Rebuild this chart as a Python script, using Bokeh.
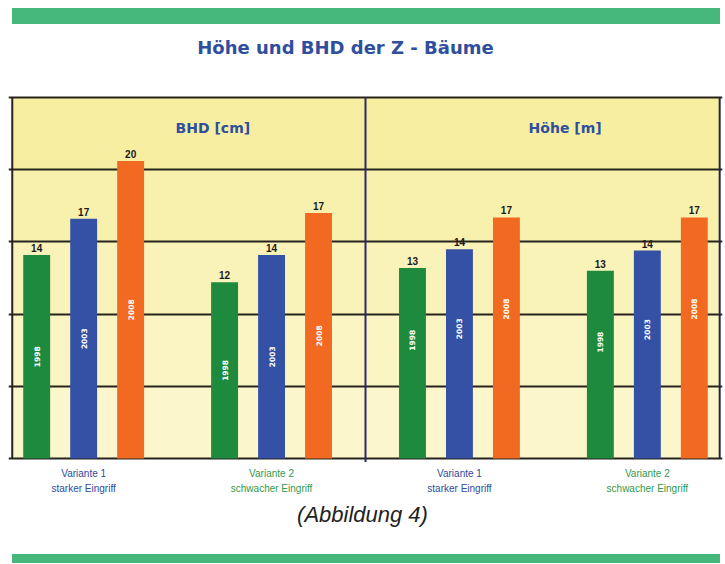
import math
from bokeh.plotting import figure
from bokeh.models import FactorRange, Range1d, ColumnDataSource, BoxAnnotation, FixedTicker, Div
from bokeh.layouts import column
from bokeh.core.properties import value
from bokeh.embed import file_html
from bokeh.resources import INLINE

# ---------------- data ----------------
chart_title = "Höhe und BHD der Z - Bäume"
caption = "(Abbildung 4)"
panels = ["BHD", "Höhe"]
panel_titles = ["BHD [cm]", "Höhe [m]"]
variants = ["Variante 1", "Variante 2"]
variant_labels = ["Variante 1\nstarker Eingriff", "Variante 2\nschwacher Eingriff"]
years = ["1998", "2003", "2008"]

bhd_v1 = [14.1, 16.6, 20.6]
bhd_v2 = [12.2, 14.1, 17.0]
hoehe_v1 = [13.2, 14.5, 16.7]
hoehe_v2 = [13.0, 14.4, 16.7]

bhd_v1_text = ["14", "17", "20"]
bhd_v2_text = ["12", "14", "17"]
hoehe_v1_text = ["13", "14", "17"]
hoehe_v2_text = ["13", "14", "17"]

y_ticks = [0, 5, 10, 15, 20, 25]

# ---------------- styles ----------------
year_colors = ["#1E8A3E", "#3451A6", "#F26A22"]
variant_colors = ["#2E4A9E", "#2F9A4C"]
title_blue = "#2F4E9E"
green_bar = "#47B87B"
line_dark = "#26241c"
band_colors = ["#FBF6CB", "#FAF5C3", "#F9F3B9", "#F8F1AE", "#F7EEA2"]
year_label_frac = {"BHD": 0.5, "Höhe": 0.62}

series = {("BHD", "Variante 1"): (bhd_v1, bhd_v1_text),
          ("BHD", "Variante 2"): (bhd_v2, bhd_v2_text),
          ("Höhe", "Variante 1"): (hoehe_v1, hoehe_v1_text),
          ("Höhe", "Variante 2"): (hoehe_v2, hoehe_v2_text)}

xs, tops, texts, yrs, ymids, cols = [], [], [], [], [], []
for pan in panels:
    for var in variants:
        vals, labs = series[(pan, var)]
        for i, yr in enumerate(years):
            xs.append((pan, var, yr))
            tops.append(vals[i])
            texts.append(labs[i])
            yrs.append(yr)
            ymids.append(vals[i] * year_label_frac[pan])
            cols.append(year_colors[i])

src = ColumnDataSource(dict(x=xs, top=tops, text=texts, year=yrs, ymid=ymids, color=cols))

x_range = FactorRange(*xs, factor_padding=0, subgroup_padding=1, group_padding=1,
                      range_padding=0.1, range_padding_units="absolute")
n_units = len(xs) + 3          # 12 bars + 3 gaps
divider = n_units / 2.0
x_left = -0.02                 # left border of plot area
x_right = n_units + 0.04       # right border of plot area
y_top = y_ticks[-1]

# frame covers title, plot area, category labels and caption
p = figure(x_range=x_range, y_range=Range1d(-6.65, 30.06),
           frame_width=714, frame_height=530,
           min_border_left=8, min_border_right=2, min_border_top=0, min_border_bottom=0,
           x_axis_location=None, y_axis_location=None,
           output_backend="svg", toolbar_location=None,
           background_fill_color="white", border_fill_color="white",
           outline_line_color=None)

# background bands
for i in range(len(y_ticks) - 1):
    p.add_layout(BoxAnnotation(left=x_left, right=x_right,
                               bottom=y_ticks[i], top=y_ticks[i + 1],
                               fill_color=band_colors[i], fill_alpha=1.0,
                               line_color=None, level="image"))

# horizontal grid lines (extend slightly left like tick marks)
p.xgrid.visible = False
p.ygrid.ticker = FixedTicker(ticks=y_ticks)
p.ygrid.grid_line_color = line_dark
p.ygrid.grid_line_width = 2

# borders and divider
p.segment(x0=[x_left, x_right, divider], y0=[0, 0, -0.25],
          x1=[x_left, x_right, divider], y1=[y_top, y_top, y_top],
          line_color=[line_dark, "#23234a", "#2a2a66"], line_width=2)

# bars
p.vbar(x="x", top="top", bottom=0, width=0.573, fill_color="color",
       line_color=None, source=src)

# value labels
p.text(x="x", y="top", text="text", source=src, text_align="center",
       text_baseline="bottom", y_offset=-3, text_color="#1a1a1a",
       text_font=value("Liberation Sans"), text_font_style="bold",
       text_font_size="10px")

# year labels inside bars
p.text(x="x", y="ymid", text="year", source=src, angle=math.pi / 2,
       text_align="center", text_baseline="middle", text_color="white",
       text_font=value("DejaVu Sans"), text_font_style="bold",
       text_font_size="7.5px")

# panel titles
title_x = [divider / 2 + 0.5, (divider + n_units) / 2 + 0.5]
p.text(x=title_x, y=[22.9, 22.9], text=panel_titles, text_align="center",
       text_baseline="middle", text_color=title_blue,
       text_font=value("DejaVu Sans"), text_font_style="bold",
       text_font_size="14px")

# variant labels below the plot area
vx, vt, vc = [], [], []
for pan in panels:
    for j, var in enumerate(variants):
        vx.append((pan, var))
        vt.append(variant_labels[j])
        vc.append(variant_colors[j])
p.text(x=vx, y=[-0.69] * len(vx), text=vt, text_color=vc, text_align="center",
       text_baseline="top", text_line_height=1.35,
       text_font=value("Liberation Sans"), text_font_size="10px")

# chart title and caption
p.text(x=[divider], y=[28.46], text=[chart_title], x_offset=-20,
       text_align="center", text_baseline="middle", text_color=title_blue,
       text_font=value("DejaVu Sans"), text_font_style="bold", text_font_size="18px")
p.text(x=[divider], y=[-3.9], text=[caption], x_offset=-3,
       text_align="center", text_baseline="middle", text_color="#222222",
       text_font=value("Liberation Sans"), text_font_style="italic", text_font_size="22px")

top_bar = Div(text="", width=708, height=16, margin=(8, 0, 0, 12),
              styles={"background-color": green_bar})
bottom_bar = Div(text="", width=708, height=9, margin=(0, 0, 0, 12),
                 styles={"background-color": green_bar})

layout = column(top_bar, p, bottom_bar, spacing=0)
open("out.html", "w").write(file_html(layout, INLINE))
